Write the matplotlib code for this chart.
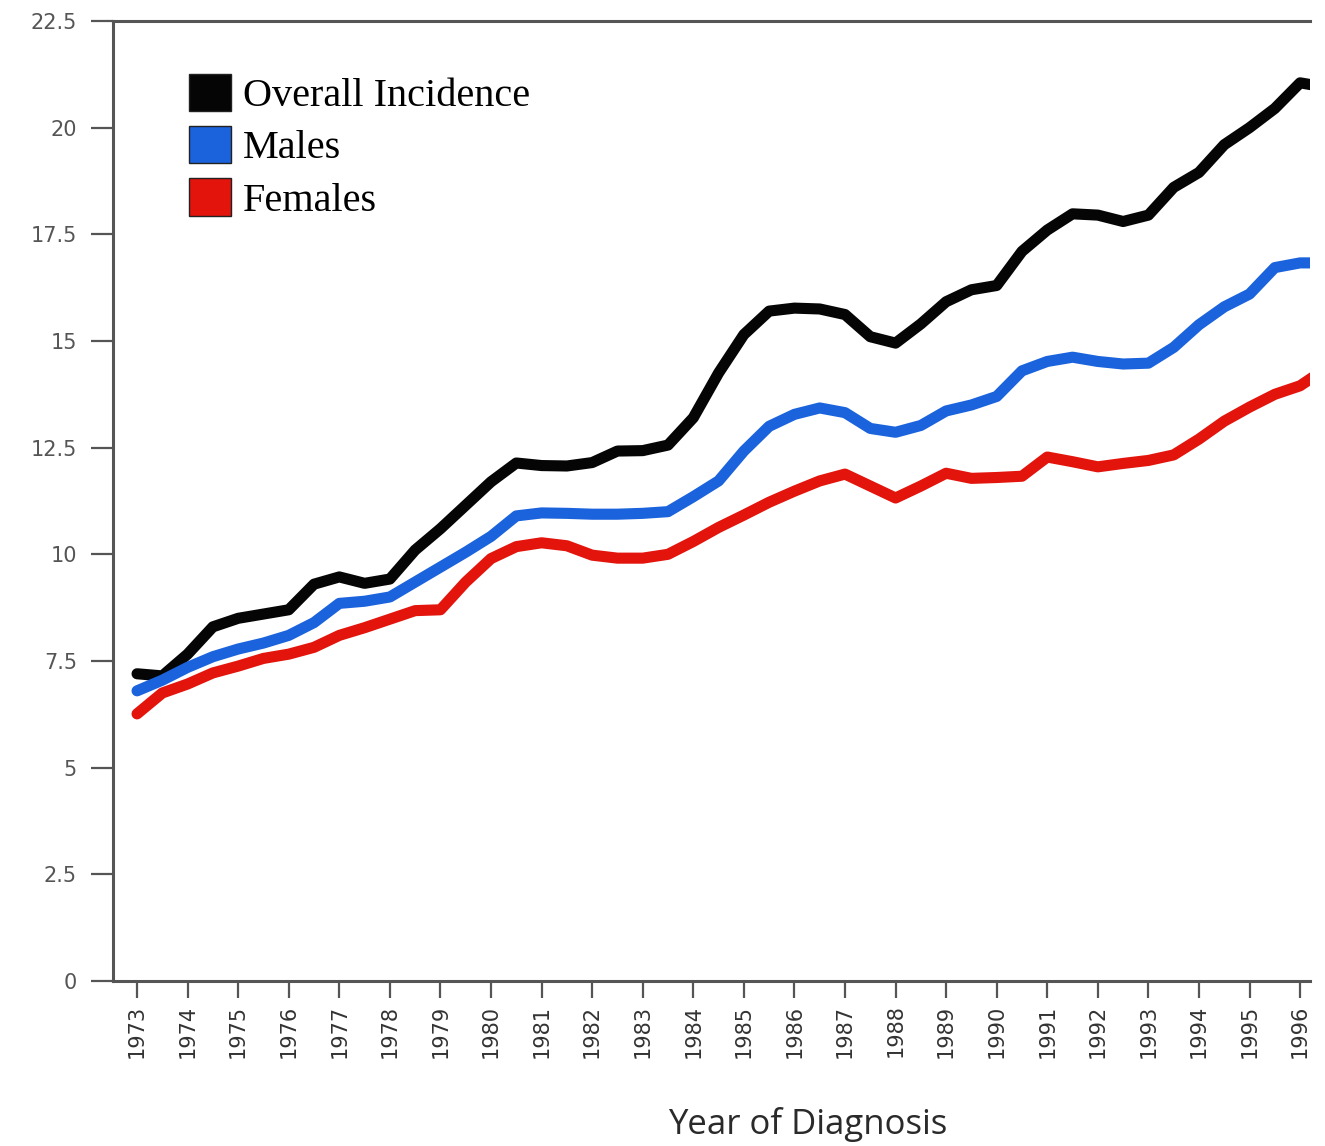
"""Incidence by year of diagnosis: overall, males, females."""

import matplotlib.pyplot as plt
from matplotlib.patches import Patch

plt.switch_backend("Agg")

# half-year readings, 1973.0 .. 1996.0, plus the last point at the right edge
YEARS = [1973 + 0.5 * i for i in range(47)] + [1996.25]

OVERALL = [
    7.20, 7.15, 7.66, 8.30, 8.50, 8.60, 8.70, 9.30, 9.47, 9.32,
    9.42, 10.10, 10.60, 11.15, 11.70, 12.14, 12.08, 12.07, 12.15, 12.42,
    12.43, 12.56, 13.20, 14.25, 15.15, 15.70, 15.77, 15.75, 15.62, 15.10,
    14.95, 15.40, 15.92, 16.20, 16.30, 17.10, 17.60, 17.98, 17.95, 17.80,
    17.95, 18.60, 18.95, 19.60, 20.00, 20.45, 21.05, 21.00,
]
MALES = [
    6.80, 7.05, 7.35, 7.60, 7.78, 7.92, 8.10, 8.40, 8.85, 8.90,
    9.00, 9.35, 9.70, 10.05, 10.42, 10.90, 10.97, 10.96, 10.94, 10.94,
    10.96, 11.00, 11.35, 11.72, 12.42, 13.00, 13.28, 13.43, 13.32, 12.95,
    12.86, 13.02, 13.36, 13.50, 13.70, 14.30, 14.52, 14.62, 14.52, 14.46,
    14.48, 14.85, 15.38, 15.80, 16.10, 16.72, 16.83, 16.83,
]
FEMALES = [
    6.26, 6.75, 6.96, 7.22, 7.38, 7.56, 7.66, 7.82, 8.10, 8.28,
    8.48, 8.68, 8.70, 9.35, 9.90, 10.18, 10.27, 10.20, 9.98, 9.91,
    9.91, 10.00, 10.30, 10.63, 10.92, 11.22, 11.48, 11.72, 11.88, 11.60,
    11.32, 11.60, 11.90, 11.78, 11.80, 11.83, 12.28, 12.17, 12.05, 12.13,
    12.20, 12.33, 12.70, 13.12, 13.45, 13.75, 13.95, 14.15,
]

SERIES = [
    ("Overall Incidence", OVERALL, "#050505"),
    ("Males", MALES, "#1a63dc"),
    ("Females", FEMALES, "#e3140c"),
]
YEAR_TICKS = list(range(1973, 1997))
Y_TICKS = [0, 2.5, 5, 7.5, 10, 12.5, 15, 17.5, 20, 22.5]
Y_TICK_LABELS = ["0", "2.5", "5", "7.5", "10", "12.5", "15", "17.5", "20", "22.5"]

SPINE = "#555555"

fig = plt.figure(figsize=(13.25, 11.46), dpi=100)
ax = fig.add_axes([0.0853, 0.144, 0.9034, 0.8377])

for label, values, color in SERIES:
    ax.plot(YEARS, values, color=color, lw=8, solid_joinstyle="round",
            solid_capstyle="round", label=label)

ax.set_xlim(1972.525, 1996.196)
ax.set_ylim(0, 22.5)
ax.set_xticks(YEAR_TICKS)
ax.set_xticklabels([str(y) for y in YEAR_TICKS], rotation=90, fontsize=15,
                   color="#333333")
ax.set_yticks(Y_TICKS)
ax.set_yticklabels(Y_TICK_LABELS, fontsize=15, color="#555555")
ax.tick_params(axis="x", length=12, width=1.6, color=SPINE, pad=5)
ax.tick_params(axis="y", length=16, width=1.6, color=SPINE, pad=10)

ax.spines["right"].set_visible(False)
for side in ("left", "bottom", "top"):
    ax.spines[side].set_color(SPINE)
    ax.spines[side].set_linewidth(2.2)

ax.set_xlabel("Year of Diagnosis", fontsize=25, family="Open Sans",
              color="#2a2a2a")
ax.xaxis.set_label_coords(0.58, -0.131)

handles = [Patch(facecolor=c, edgecolor="#222222", lw=1.0) for _, _, c in SERIES]
ax.legend(handles, [s[0] for s in SERIES], loc="upper left",
          bbox_to_anchor=(0.05, 0.962), frameon=False,
          prop={"family": "Liberation Serif", "size": 29},
          handlelength=1.05, handleheight=1.05, handletextpad=0.3,
          labelspacing=0.27, borderaxespad=0)

fig.savefig("out.png", dpi=100)
